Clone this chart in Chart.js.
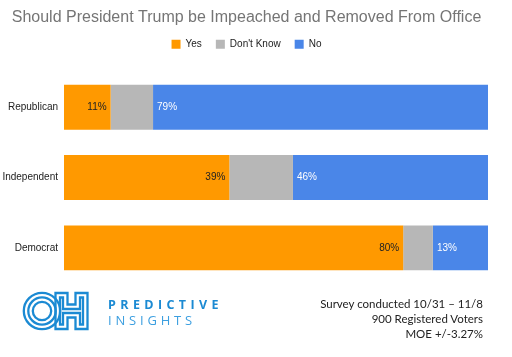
<!DOCTYPE html>
<html>
<head>
<meta charset="utf-8">
<script src="https://cdn.jsdelivr.net/npm/chart.js@4"></script>
<style>
  html, body { margin: 0; padding: 0; background: #fff; }
  body { width: 512px; height: 357px; position: relative; overflow: hidden; }
  #wrap { position: absolute; left: 0; top: 0; width: 512px; height: 295px; }
  #logo { position: absolute; left: 0; top: 280px; }
  .brand { position: absolute; font-family: "Open Sans", "Liberation Sans", sans-serif; white-space: nowrap; }
  #p1 { left: 108px; top: 296px; font-size: 12.5px; font-weight: 700; letter-spacing: 4.4px; color: #1b8ad3; }
  #p2 { left: 108px; top: 311px; font-size: 13px; font-weight: 400; letter-spacing: 3.8px; color: #3c9fe0; }
  #note { position: absolute; right: 29px; top: 296px; font-family: Lato, "Liberation Sans", sans-serif; font-size: 11.5px; line-height: 15px; color: #222; text-align: right; }
</style>
</head>
<body>
<div id="wrap"><canvas id="c"></canvas></div>
<svg id="logo" width="100" height="60" viewBox="0 280 100 60">
  <g fill="none" stroke="#1b8ad3" stroke-width="2.3">
    <circle cx="42" cy="311" r="18.2"/>
    <circle cx="42" cy="311" r="13.7"/>
    <circle cx="42" cy="311" r="9.2"/>
    <path d="M55.5 293 H67.5 V304.5 H75.5 V293 H87.5 V329 H75.5 V317.5 H67.5 V329 H55.5 Z"/>
    <path d="M60 297.5 H63 V309 H80 V297.5 H83 V324.5 H80 V313 H63 V324.5 H60 Z"/>
  </g>
</svg>
<div class="brand" id="p1">PREDICTIVE</div>
<div class="brand" id="p2">INSIGHTS</div>
<div id="note">Survey conducted 10/31 – 11/8<br>900 Registered Voters<br>MOE +/-3.27%</div>
<script>
const categories = ["Republican", "Independent", "Democrat"];
const yesValues = [11, 39, 80];
const dontKnowValues = [10, 15, 7];
const noValues = [79, 46, 13];
const seriesNames = ["Yes", "Don't Know", "No"];
const titleText = "Should President Trump be Impeached and Removed From Office";

const FONT = '"Liberation Sans", Arial, sans-serif';

const labelPlugin = {
  id: 'segLabels',
  afterDatasetsDraw(chart) {
    const ctx = chart.ctx;
    ctx.save();
    ctx.font = '10px ' + FONT;
    ctx.textBaseline = 'middle';
    chart.data.datasets.forEach((ds, di) => {
      if (di === 1) return;
      const meta = chart.getDatasetMeta(di);
      meta.data.forEach((bar, i) => {
        const txt = ds.data[i] + '%';
        if (di === 0) {
          ctx.fillStyle = '#222';
          ctx.textAlign = 'right';
          ctx.fillText(txt, bar.x - 4, bar.y);
        } else {
          ctx.fillStyle = '#fff';
          ctx.textAlign = 'left';
          ctx.fillText(txt, bar.base + 4, bar.y);
        }
      });
    });
    ctx.restore();
  }
};

const legendSpace = {
  id: 'legendSpace',
  afterInit(chart) {
    const lg = chart.legend;
    if (!lg) return;
    const orig = lg.fit;
    lg.fit = function () { orig.call(this); this.height += 13; };
  }
};

new Chart(document.getElementById('c'), {
  type: 'bar',
  data: {
    labels: categories,
    datasets: [
      { label: seriesNames[0], data: yesValues, backgroundColor: '#ff9900' },
      { label: seriesNames[1], data: dontKnowValues, backgroundColor: '#b7b7b7' },
      { label: seriesNames[2], data: noValues, backgroundColor: '#4a86e8' }
    ]
  },
  options: {
    indexAxis: 'y',
    responsive: true,
    maintainAspectRatio: false,
    animation: false,
    categoryPercentage: 1,
    barPercentage: 0.64,
    layout: { padding: { left: 5, right: 24, top: 6, bottom: 6.7 } },
    scales: {
      x: { stacked: true, min: 0, max: 100, display: false },
      y: {
        stacked: true,
        grid: { display: false, drawTicks: false },
        border: { display: false },
        ticks: { color: '#222', font: { size: 10, family: FONT }, padding: 6 },
        afterFit(scale) {
          scale.width = 59;
          scale._computeLabelArea = function () { return undefined; };
        }
      }
    },
    plugins: {
      title: {
        display: true, text: titleText, color: '#757575',
        font: { size: 16, weight: 'normal', family: FONT },
        padding: { top: 2, bottom: -2 }
      },
      legend: {
        display: true,
        labels: {
          color: '#222', boxWidth: 9, boxHeight: 9, padding: 14,
          font: { size: 10, family: FONT }
        }
      },
      tooltip: { enabled: false }
    }
  },
  plugins: [labelPlugin, legendSpace]
});
</script>
</body>
</html>
